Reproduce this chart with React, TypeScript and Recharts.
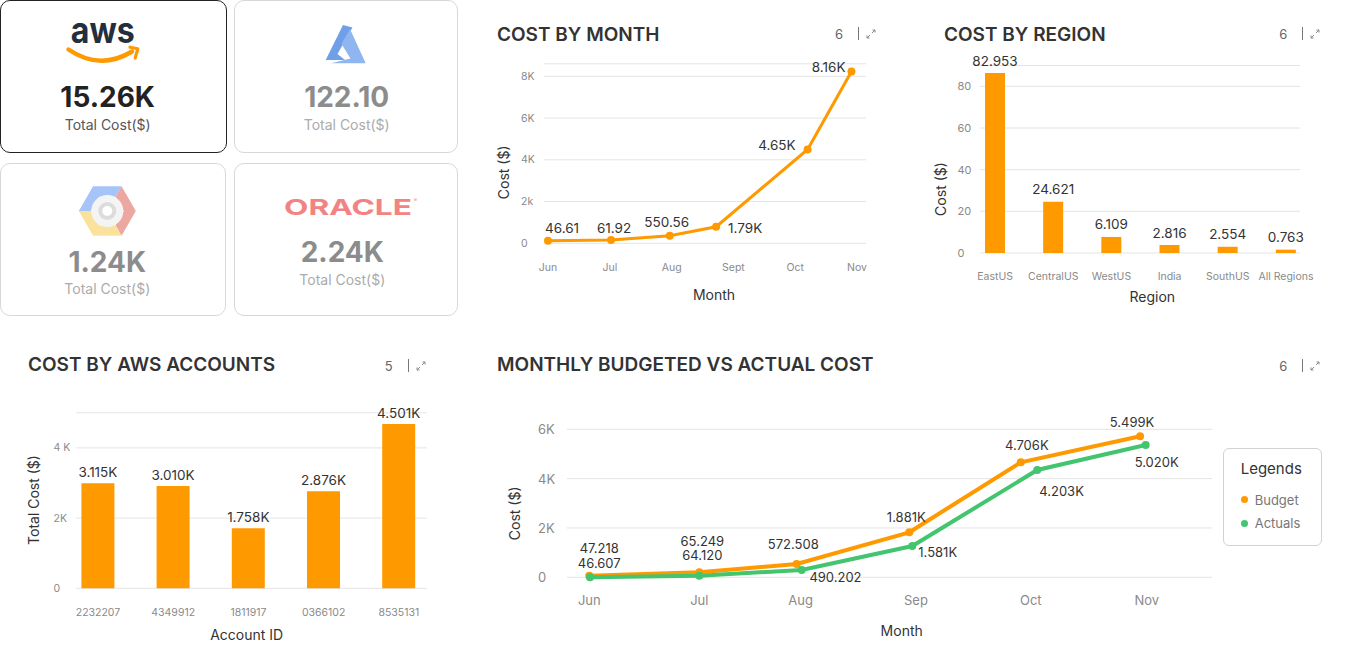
import React from 'react';
import {
  LineChart,
  Line,
  BarChart,
  Bar,
  XAxis,
  YAxis,
  CartesianGrid,
  LabelList,
  Legend,
} from 'recharts';

const FONT = 'Inter, "Noto Sans", sans-serif';
const ORANGE = '#FF9900';
const GREEN = '#43C46E';
const GRID = '#E4E4E4';
const TICK = '#8A8A8A';

// ---------- provider cards ----------
const providerTotals = ['15.26K', '122.10', '1.24K', '2.24K'];

// ---------- cost by month ----------
const monthTickPos = [0, 1, 2, 3, 4, 5];
const monthTickLabels = ['Jun', 'Jul', 'Aug', 'Sept', 'Oct', 'Nov'];
const monthPos = [0, 1.02, 1.97, 2.72, 4.2, 4.91];
const monthCost = [124, 158, 364, 794, 4498, 8230];
const monthCostLabels = ['46.61', '61.92', '550.56', '1.79K', '4.65K', '8.16K'];
const monthYTicks = [0, 2000, 4000, 6000, 8000];
const monthYTickLabels = ['0', '2k', '4K', '6K', '8K'];

// ---------- cost by region ----------
const regions = ['EastUS', 'CentralUS', 'WestUS', 'India', 'SouthUS', 'All Regions'];
const regionCost = [86.4, 24.6, 7.7, 3.84, 3.0, 1.6];
const regionLabels = ['82.953', '24.621', '6.109', '2.816', '2.554', '0.763'];
const regionYTicks = [0, 20, 40, 60, 80];
const regionYTickLabels = ['0', '20', '40', '60', '80'];

// ---------- cost by aws accounts ----------
const accounts = ['2232207', '4349912', '1811917', '0366102', '8535131'];
const accountCost = [2991, 2915, 1709, 2764, 4681];
const accountLabels = ['3.115K', '3.010K', '1.758K', '2.876K', '4.501K'];
const accountYTicks = [0, 2000, 4000];
const accountYTickLabels = ['0', '2K', '4 K'];

// ---------- monthly budgeted vs actual ----------
const bvaTickPos = [0, 0.987, 1.896, 2.93, 3.96, 5];
const bvaTickLabels = ['Jun', 'Jul', 'Aug', 'Sep', 'Oct', 'Nov'];
const budgetPos = [0, 0.987, 1.86, 2.87, 3.87, 4.94];
const budgetCost = [65, 203, 539, 1824, 4662, 5716];
const budgetLabels = ['47.218', '65.249', '572.508', '1.881K', '4.706K', '5.499K'];
const actualPos = [0.006, 0.987, 1.905, 2.897, 4.018, 4.99];
const actualCost = [0, 65, 296, 1269, 4350, 5363];
const actualLabels = ['46.607', '64.120', '490.202', '1.581K', '4.203K', '5.020K'];
const bvaYTicks = [0, 2000, 4000, 6000];
const bvaYTickLabels = ['0', '2K', '4K', '6K'];

// ---------- label placement (style) ----------
type Place = { dx: number; dy: number; anchor: 'start' | 'middle' | 'end' };
const monthPlace: Place[] = [
  { dx: -3, dy: -13, anchor: 'start' },
  { dx: 3, dy: -12, anchor: 'middle' },
  { dx: -3, dy: -14, anchor: 'middle' },
  { dx: 12, dy: 1, anchor: 'start' },
  { dx: -12, dy: -4.6, anchor: 'end' },
  { dx: -6, dy: -4.6, anchor: 'end' },
];
const budgetPlace: Place[] = [
  { dx: 10, dy: -28, anchor: 'middle' },
  { dx: 3, dy: -31.6, anchor: 'middle' },
  { dx: -3.4, dy: -19.7, anchor: 'middle' },
  { dx: -3, dy: -15, anchor: 'middle' },
  { dx: 6, dy: -17, anchor: 'middle' },
  { dx: -8, dy: -14.6, anchor: 'middle' },
];
const actualPlace: Place[] = [
  { dx: 9.3, dy: -14.5, anchor: 'middle' },
  { dx: 3, dy: -20.4, anchor: 'middle' },
  { dx: 7.7, dy: 7, anchor: 'start' },
  { dx: 6, dy: 6.3, anchor: 'start' },
  { dx: 2, dy: 20.7, anchor: 'start' },
  { dx: 11, dy: 17, anchor: 'middle' },
];

const monthRows = monthPos.map((x, i) => ({ x, cost: monthCost[i], label: monthCostLabels[i] }));
const regionRows = regions.map((r, i) => ({ name: r, cost: regionCost[i], label: regionLabels[i] }));
const accountRows = accounts.map((a, i) => ({ name: a, cost: accountCost[i], label: accountLabels[i] }));
const budgetRows = budgetPos.map((x, i) => ({ x, v: budgetCost[i], label: budgetLabels[i] }));
const actualRows = actualPos.map((x, i) => ({ x, v: actualCost[i], label: actualLabels[i] }));

// ---------- helpers ----------
const pointLabel = (places: Place[], size: number) => (props: any) => {
  const { x, y, value, index } = props;
  const p = places[index] || { dx: 0, dy: -12, anchor: 'middle' };
  return (
    <text
      x={x + p.dx}
      y={y + p.dy}
      textAnchor={p.anchor}
      dominantBaseline="central"
      fontSize={size}
      fill="#333"
      fontFamily={FONT}
    >
      {value}
    </text>
  );
};

const barLabel = (gap: number, size: number) => (props: any) => {
  const { x, y, width, value } = props;
  return (
    <text
      x={x + width / 2}
      y={y - gap}
      textAnchor="middle"
      dominantBaseline="central"
      fontSize={size}
      fill="#333"
      fontFamily={FONT}
    >
      {value}
    </text>
  );
};

const leftTick = (ticks: number[], labels: string[], size: number) => (props: any) => {
  const { x, y, payload } = props;
  const i = ticks.indexOf(payload.value);
  return (
    <text x={x} y={y} textAnchor="start" dominantBaseline="central" fontSize={size} fill={TICK} fontFamily={FONT}>
      {i >= 0 ? labels[i] : payload.value}
    </text>
  );
};

const axisTitle = (text: string, cx: number, cy: number, rotate = false) => () => (
  <text
    x={cx}
    y={cy}
    textAnchor="middle"
    dominantBaseline="central"
    transform={rotate ? `rotate(-90 ${cx} ${cy})` : undefined}
    fontSize={14}
    fill="#333"
    fontFamily={FONT}
  >
    {text}
  </text>
);

const Title = ({ text, left, cy }: { text: string; left: number; cy: number }) => (
  <div
    style={{
      position: 'absolute',
      left,
      top: cy - 12,
      height: 24,
      lineHeight: '24px',
      fontSize: 19,
      fontWeight: 600,
      color: '#333',
      fontFamily: FONT,
      whiteSpace: 'nowrap',
    }}
  >
    {text}
  </div>
);

const Controls = ({ count, cx, cy }: { count: string; cx: number; cy: number }) => (
  <>
    <div
      style={{
        position: 'absolute',
        left: cx - 10,
        width: 20,
        textAlign: 'center',
        top: cy - 9,
        lineHeight: '18px',
        fontSize: 13,
        color: '#666',
        fontFamily: FONT,
      }}
    >
      {count}
    </div>
    <div style={{ position: 'absolute', left: cx + 19, top: cy - 7, width: 1, height: 13, background: '#777' }} />
    <svg style={{ position: 'absolute', left: cx + 27, top: cy - 5 }} width={10} height={10}>
      <path d="M6,4 L9,1 M6.5,1 L9,1 L9,3.5 M4,6 L1,9 M1,6.5 L1,9 L3.5,9" stroke="#888" strokeWidth={1} fill="none" />
    </svg>
  </>
);

const CenterText = ({
  text,
  cx,
  cy,
  size,
  weight,
  color,
}: {
  text: string;
  cx: number;
  cy: number;
  size: number;
  weight: number;
  color: string;
}) => (
  <div
    style={{
      position: 'absolute',
      left: cx - 100,
      width: 200,
      textAlign: 'center',
      top: cy - size * 0.6,
      height: size * 1.2,
      lineHeight: `${size * 1.2}px`,
      fontSize: size,
      fontWeight: weight,
      color,
      fontFamily: FONT,
      whiteSpace: 'nowrap',
    }}
  >
    {text}
  </div>
);

const Card = ({ left, top, width, height, dark }: { left: number; top: number; width: number; height: number; dark?: boolean }) => (
  <div
    style={{
      position: 'absolute',
      left,
      top,
      width,
      height,
      boxSizing: 'border-box',
      border: dark ? '1.5px solid #222' : '1px solid #D8D8D8',
      borderRadius: 10,
      background: '#fff',
    }}
  />
);

// hexagon helpers for GCP logo
const hexPt = (cx: number, cy: number, r: number, k: number) => {
  const a = (Math.PI / 3) * k;
  return [cx - r * Math.cos(a), cy - r * Math.sin(a)];
};
const band = (cx: number, cy: number, R: number, r: number, k0: number) => {
  const o = [hexPt(cx, cy, R, k0), hexPt(cx, cy, R, k0 + 1), hexPt(cx, cy, R, k0 + 2)];
  const i = [hexPt(cx, cy, r, k0 + 2), hexPt(cx, cy, r, k0 + 1), hexPt(cx, cy, r, k0)];
  return [...o, ...i].map((p) => p.join(',')).join(' ');
};

const Logos = () => (
  <svg style={{ position: 'absolute', left: 0, top: 0 }} width={460} height={320}>
    {/* AWS */}
    <text
      x={102.8}
      y={42.7}
      textAnchor="middle"
      fontSize={36}
      fontWeight={700}
      fill="#232F3E"
      fontFamily={FONT}
      textLength={64}
      lengthAdjust="spacingAndGlyphs"
    >
      aws
    </text>
    <path d="M68.5,49.5 Q100,71 132,51.5" stroke={ORANGE} strokeWidth={4.5} fill="none" strokeLinecap="round" />
    <polyline points="130,47.2 137.8,48.8 135.2,58" stroke={ORANGE} strokeWidth={3.2} fill="none" strokeLinejoin="round" strokeLinecap="round" />
    {/* Azure */}
    <polygon points="343,25 352.5,27.5 337.5,54 345,60 325.7,60" fill="#6F9FE9" />
    <polygon points="350,29 365.7,63.3 331,63.3 350.5,58.5 341.5,44" fill="#8FB6F1" />
    {/* GCP */}
    <polygon points={band(107.3, 211, 28.5, 16.5, 0)} fill="#A6C4F7" />
    <polygon points={band(107.3, 211, 28.5, 16.5, 2)} fill="#EDA7A1" />
    <polygon points={band(107.3, 211, 28.5, 16.5, 4)} fill="#FBE29C" />
    <circle cx={107.3} cy={211} r={16} fill="#F4F4F4" />
    <circle cx={107.3} cy={211} r={9} fill="#DCDCDC" />
    <circle cx={107.3} cy={211} r={5} fill="#FFFFFF" />
    {/* Oracle */}
    <text
      x={348}
      y={215}
      textAnchor="middle"
      fontSize={22}
      fontWeight={700}
      fill="#F38383"
      fontFamily={FONT}
      textLength={128}
      lengthAdjust="spacingAndGlyphs"
    >
      ORACLE
    </text>
    <text x={415.5} y={202} textAnchor="middle" fontSize={5} fill="#F38383" fontFamily={FONT}>
      ®
    </text>
  </svg>
);

const LegendBox = () => (
  <div
    style={{
      width: 99,
      height: 98,
      boxSizing: 'border-box',
      border: '1px solid #D2D2D2',
      borderRadius: 6,
      position: 'relative',
      fontFamily: FONT,
      background: '#fff',
    }}
  >
    <div style={{ position: 'absolute', left: 17, top: 11, lineHeight: '18px', fontSize: 15, color: '#333' }}>Legends</div>
    <div style={{ position: 'absolute', left: 17.5, top: 47.5, width: 7, height: 7, borderRadius: 4, background: ORANGE }} />
    <div style={{ position: 'absolute', left: 31, top: 43, lineHeight: '16px', fontSize: 13, color: '#777' }}>Budget</div>
    <div style={{ position: 'absolute', left: 17.5, top: 71, width: 7, height: 7, borderRadius: 4, background: GREEN }} />
    <div style={{ position: 'absolute', left: 31, top: 66.5, lineHeight: '16px', fontSize: 13, color: '#777' }}>Actuals</div>
  </div>
);

export default function App() {
  return (
    <div
      style={{
        position: 'absolute',
        left: 0,
        top: 0,
        width: 1346,
        height: 655,
        background: '#fff',
        overflow: 'hidden',
        fontFamily: FONT,
      }}
    >
      {/* provider cards */}
      <Card left={0} top={0} width={227} height={153} dark />
      <Card left={234} top={0} width={224} height={153} />
      <Card left={0} top={163} width={226} height={153} />
      <Card left={234} top={163} width={224} height={153} />
      <Logos />
      <CenterText text={providerTotals[0]} cx={107.7} cy={97.3} size={28} weight={700} color="#222" />
      <CenterText text="Total Cost($)" cx={107.7} cy={125} size={14} weight={400} color="#555" />
      <CenterText text={providerTotals[1]} cx={346.7} cy={97.3} size={28} weight={700} color="#8C8C8C" />
      <CenterText text="Total Cost($)" cx={346.7} cy={125} size={14} weight={400} color="#ABABAB" />
      <CenterText text={providerTotals[2]} cx={107.3} cy={262.3} size={28} weight={700} color="#8C8C8C" />
      <CenterText text="Total Cost($)" cx={107.3} cy={289.7} size={14} weight={400} color="#ABABAB" />
      <CenterText text={providerTotals[3]} cx={342.3} cy={252.3} size={28} weight={700} color="#8C8C8C" />
      <CenterText text="Total Cost($)" cx={342.3} cy={280} size={14} weight={400} color="#ABABAB" />

      {/* titles */}
      <Title text="COST BY MONTH" left={497} cy={35} />
      <Controls count="6" cx={839} cy={34} />
      <Title text="COST BY REGION" left={944} cy={35} />
      <Controls count="6" cx={1283.3} cy={34} />
      <Title text="COST BY AWS ACCOUNTS" left={28} cy={365} />
      <Controls count="5" cx={388.7} cy={365.7} />
      <Title text="MONTHLY BUDGETED VS ACTUAL COST" left={497} cy={365} />
      <Controls count="6" cx={1283.3} cy={365.7} />

      {/* cost by month */}
      <div style={{ position: 'absolute', left: 480, top: 40 }}>
        <LineChart width={400} height={270} data={monthRows} margin={{ top: 23.8, right: 14, bottom: 36.7, left: 24 }}>
          <CartesianGrid vertical={false} stroke={GRID} />
          <XAxis
            type="number"
            dataKey="x"
            domain={[-0.065, 5.145]}
            ticks={monthTickPos}
            tickFormatter={(v: number) => monthTickLabels[monthTickPos.indexOf(v)] ?? ''}
            interval={0}
            axisLine={false}
            tickLine={false}
            tickSize={0}
            tickMargin={20.3}
            tick={{ fontSize: 10.5, fill: TICK, fontFamily: FONT }}
            label={axisTitle('Month', 234, 254.7)}
          />
          <YAxis
            width={40}
            domain={[0, 8600]}
            ticks={monthYTicks}
            interval={0}
            axisLine={false}
            tickLine={false}
            tickSize={0}
            tickMargin={23}
            tick={leftTick(monthYTicks, monthYTickLabels, 10.5)}
            label={axisTitle('Cost ($)', 23.3, 132.3, true)}
          />
          <Line
            dataKey="cost"
            stroke={ORANGE}
            strokeWidth={3}
            dot={{ r: 4, fill: ORANGE, stroke: ORANGE, strokeWidth: 0 }}
            isAnimationActive={false}
          >
            <LabelList dataKey="label" content={pointLabel(monthPlace, 13.5)} />
          </Line>
        </LineChart>
      </div>

      {/* cost by region */}
      <div style={{ position: 'absolute', left: 900, top: 40 }}>
        <BarChart width={446} height={280} data={regionRows} margin={{ top: 25.5, right: 46, bottom: 37, left: 40 }}>
          <CartesianGrid vertical={false} stroke={GRID} />
          <XAxis
            dataKey="name"
            padding={{ left: -14, right: -15 }}
            interval={0}
            axisLine={false}
            tickLine={false}
            tickSize={0}
            tickMargin={19.3}
            tick={{ fontSize: 10.5, fill: TICK, fontFamily: FONT }}
            label={axisTitle('Region', 252.3, 256.7)}
          />
          <YAxis
            width={40}
            domain={[0, 90]}
            ticks={regionYTicks}
            interval={0}
            axisLine={false}
            tickLine={false}
            tickSize={0}
            tickMargin={22.5}
            tick={leftTick(regionYTicks, regionYTickLabels, 11)}
            label={axisTitle('Cost ($)', 40, 149, true)}
          />
          <Bar dataKey="cost" fill={ORANGE} barSize={20} isAnimationActive={false}>
            <LabelList dataKey="label" content={barLabel(12.5, 13.5)} />
          </Bar>
        </BarChart>
      </div>

      {/* cost by aws accounts */}
      <div style={{ position: 'absolute', left: 0, top: 380 }}>
        <BarChart width={460} height={265} data={accountRows} margin={{ top: 32.8, right: 33.3, bottom: 26.7, left: 36.3 }}>
          <CartesianGrid vertical={false} stroke={GRID} />
          <XAxis
            dataKey="name"
            padding={{ left: -15.9, right: -9.7 }}
            interval={0}
            axisLine={false}
            tickLine={false}
            tickSize={0}
            tickMargin={20.7}
            tick={{ fontSize: 10.5, fill: TICK, fontFamily: FONT }}
            label={axisTitle('Account ID', 246.7, 254.3)}
          />
          <YAxis
            width={40}
            domain={[0, 5000]}
            ticks={accountYTicks}
            interval={0}
            axisLine={false}
            tickLine={false}
            tickSize={0}
            tickMargin={22.8}
            tick={leftTick(accountYTicks, accountYTickLabels, 10.5)}
            label={axisTitle('Total Cost ($)', 33.3, 120, true)}
          />
          <Bar dataKey="cost" fill={ORANGE} barSize={33} isAnimationActive={false}>
            <LabelList dataKey="label" content={barLabel(11, 13.5)} />
          </Bar>
        </BarChart>
      </div>

      {/* monthly budgeted vs actual */}
      <div style={{ position: 'absolute', left: 480, top: 380 }}>
        <LineChart width={866} height={275} margin={{ top: 49.3, right: 134, bottom: 47.7, left: 46.7 }}>
          <CartesianGrid vertical={false} stroke={GRID} />
          <XAxis
            type="number"
            dataKey="x"
            domain={[-0.2027, 5.585]}
            ticks={bvaTickPos}
            tickFormatter={(v: number) => bvaTickLabels[bvaTickPos.indexOf(v)] ?? ''}
            interval={0}
            axisLine={false}
            tickLine={false}
            tickSize={0}
            tickMargin={18.1}
            tick={{ fontSize: 13, fill: TICK, fontFamily: FONT }}
            label={axisTitle('Month', 421.7, 250)}
          />
          <YAxis
            width={40}
            domain={[0, 6000]}
            ticks={bvaYTicks}
            interval={0}
            axisLine={false}
            tickLine={false}
            tickSize={0}
            tickMargin={28.7}
            tick={leftTick(bvaYTicks, bvaYTickLabels, 13)}
            label={axisTitle('Cost ($)', 35, 133.3, true)}
          />
          <Legend
            layout="vertical"
            align="center"
            verticalAlign="middle"
            wrapperStyle={{ left: 742.7, top: 67.7, width: 99, height: 98 }}
            content={() => <LegendBox />}
          />
          <Line
            data={budgetRows}
            dataKey="v"
            name="Budget"
            stroke={ORANGE}
            strokeWidth={4}
            dot={{ r: 4, fill: ORANGE, stroke: ORANGE, strokeWidth: 0 }}
            isAnimationActive={false}
          >
            <LabelList dataKey="label" content={pointLabel(budgetPlace, 13)} />
          </Line>
          <Line
            data={actualRows}
            dataKey="v"
            name="Actuals"
            stroke={GREEN}
            strokeWidth={4}
            dot={{ r: 4, fill: GREEN, stroke: GREEN, strokeWidth: 0 }}
            isAnimationActive={false}
          >
            <LabelList dataKey="label" content={pointLabel(actualPlace, 13)} />
          </Line>
        </LineChart>
      </div>
    </div>
  );
}
